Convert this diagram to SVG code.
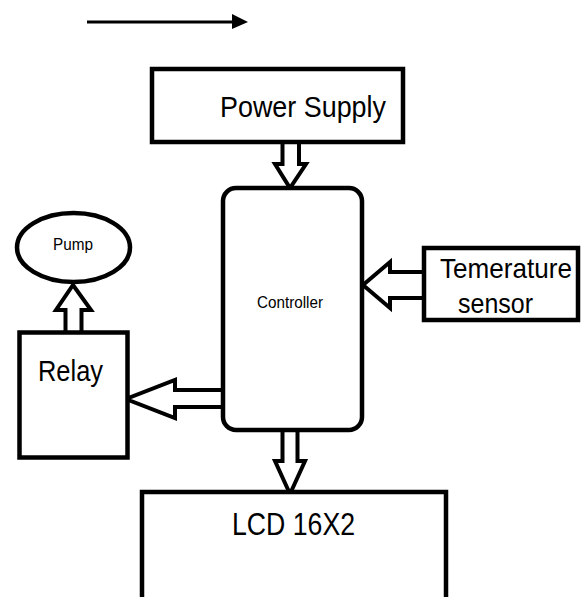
<svg xmlns="http://www.w3.org/2000/svg" width="581" height="597" viewBox="0 0 581 597">
<style>
.box{fill:#fff;stroke:#000;stroke-width:4.5}
.arr{fill:#fff;stroke:#000;stroke-width:4;stroke-linejoin:miter}
text{font-family:"Liberation Sans",Arial,sans-serif;fill:#000}
</style>
<defs>
<marker id="ah" markerWidth="6" markerHeight="6" refX="5" refY="3" orient="auto" markerUnits="strokeWidth">
<path d="M0,0 L6,3 L0,6 Z" fill="#000"/>
</marker>
</defs>
<rect width="581" height="597" fill="#fff"/>
<g id="connectors">
<line x1="87" y1="22" x2="234" y2="22" stroke="#000" stroke-width="3"/>
<polygon points="232,14 248,22 232,29" fill="#000"/>
<path class="arr" d="M282.5,143 L282.5,164 L275,164 L290,188 L306,164 L299,164 L299,143"/>
<path class="arr" d="M282.5,430 L282.5,461 L275,461 L290,494 L305,461 L297.5,461 L297.5,430"/>
<path class="arr" d="M223,390 L175,390 L175,380 L126,399 L175,418 L175,407 L223,407"/>
<path class="arr" d="M424,272 L390,272 L390,262 L363,285 L390,308 L390,298 L424,298"/>
<path class="arr" d="M65.5,331 L65.5,310 L56,310 L73,285 L91,310 L81.5,310 L81.5,331"/>
</g>
<g id="power-supply">
<rect class="box" x="152" y="69" width="251" height="73"/>
<text x="220" y="117" font-size="30" textLength="166" lengthAdjust="spacingAndGlyphs">Power Supply</text>
</g>
<g id="controller">
<rect class="box" x="223" y="188" width="139" height="242" rx="13"/>
<text x="257" y="308" font-size="16" textLength="66" lengthAdjust="spacingAndGlyphs">Controller</text>
</g>
<g id="pump">
<ellipse class="box" cx="73.5" cy="247.5" rx="56.5" ry="34.5"/>
<text x="53" y="250" font-size="16" textLength="40" lengthAdjust="spacingAndGlyphs">Pump</text>
</g>
<g id="relay">
<rect class="box" x="19.5" y="332.5" width="108" height="125"/>
<text x="38" y="381" font-size="29" textLength="65" lengthAdjust="spacingAndGlyphs">Relay</text>
</g>
<g id="temperature-sensor">
<rect class="box" x="424" y="248" width="154" height="72"/>
<text x="440" y="278" font-size="28" textLength="132" lengthAdjust="spacingAndGlyphs">Temerature</text>
<text x="458" y="313" font-size="28" textLength="75" lengthAdjust="spacingAndGlyphs">sensor</text>
</g>
<g id="lcd">
<rect class="box" x="142" y="492" width="304" height="130"/>
<text x="232" y="535" font-size="31" textLength="123" lengthAdjust="spacingAndGlyphs">LCD 16X2</text>
</g>
</svg>
